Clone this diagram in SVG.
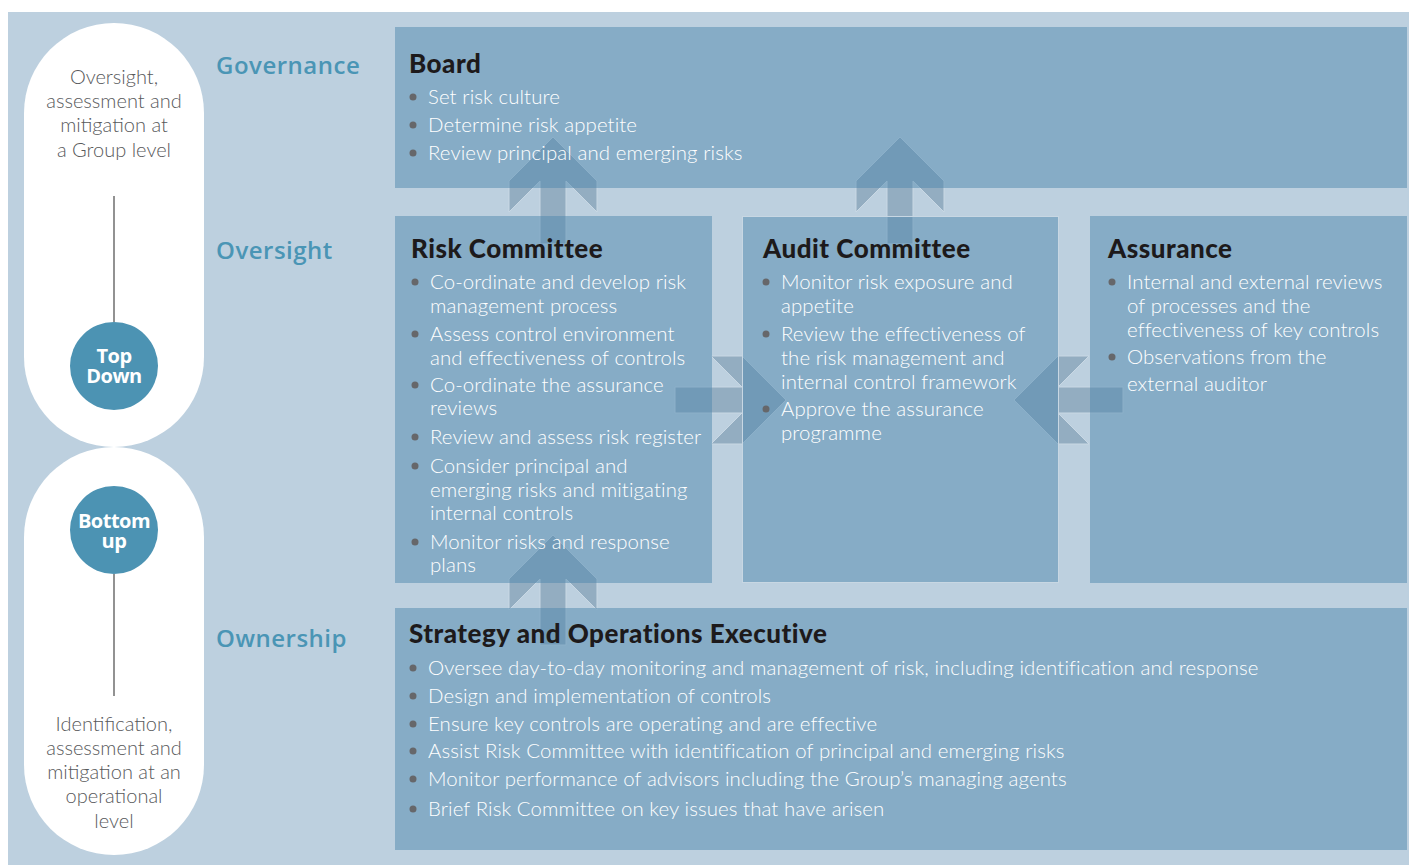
<svg xmlns="http://www.w3.org/2000/svg" width="1409" height="865" viewBox="0 0 1409 865">
<style>
.bg{fill:#BDD0DF}
.pill{fill:#FFFFFF}
.box{fill:#4F87AD;fill-opacity:0.5}
.audit{stroke:#C8D7E3;stroke-width:1}
.arrow{fill:#93ADC1;stroke:#C9D8E4;stroke-width:1}
.circ{fill:#4C93B3}
.stem{stroke:#6E6E6E;stroke-width:1.5}
.side{font-family:Lato,"Liberation Sans",sans-serif;font-size:20px;fill:#58595B;text-anchor:middle;font-weight:300}
.dir{font-family:"Open Sans","Liberation Sans",sans-serif;font-size:20px;font-weight:700;fill:#FFFFFF;text-anchor:middle;letter-spacing:-0.5px}
.lab{font-family:"Open Sans","Liberation Sans",sans-serif;font-size:24px;font-weight:600;fill:#4A95B5;letter-spacing:0.5px}
.h{font-family:Lato,"Liberation Sans",sans-serif;font-size:26px;font-weight:900;fill:#1D1A1B;letter-spacing:0.5px}
.t{font-family:Lato,"Liberation Sans",sans-serif;font-size:20.4px;font-weight:300;fill:#FFFFFF;letter-spacing:0.1px}
.dot{fill:#66676A}
</style>
<rect class="bg" x="8" y="12" width="1401" height="853"/>

<g id="connectors">
  <polygon class="arrow" points="553,137 597,181 597,212 566,181 566,244 540,244 540,181 509,212 509,181"/>
  <polygon class="arrow" points="900,137 944,181 944,212 913,181 913,244 887,244 887,181 856,212 856,181"/>
  <polygon class="arrow" points="553,535 597,579 597,610 566,579 566,645 540,645 540,579 509,610 509,579"/>
  <polygon class="arrow" points="786,400 742,444 711,444 742,413 675,413 675,387 742,387 711,356 742,356"/>
  <polygon class="arrow" points="1014,400 1058,356 1089,356 1058,387 1123,387 1123,413 1058,413 1089,444 1058,444"/>
</g>

<g id="top-down">
  <rect class="pill" x="24" y="23" width="180" height="424" rx="90" ry="90"/>
  <text class="side" x="114" y="84">Oversight,</text>
  <text class="side" x="114" y="108">assessment and</text>
  <text class="side" x="114" y="132">mitigation at</text>
  <text class="side" x="114" y="157">a Group level</text>
  <line class="stem" x1="114" y1="196" x2="114" y2="322"/>
  <circle class="circ" cx="114" cy="366" r="44"/>
  <text class="dir" x="114" y="363">Top<tspan x="114" dy="20">Down</tspan></text>
</g>

<g id="bottom-up">
  <rect class="pill" x="24" y="447" width="180" height="408" rx="90" ry="90"/>
  <circle class="circ" cx="114" cy="530" r="44"/>
  <text class="dir" x="114" y="528">Bottom<tspan x="114" dy="20">up</tspan></text>
  <line class="stem" x1="114" y1="574" x2="114" y2="696"/>
  <text class="side" x="114" y="731">Identification,</text>
  <text class="side" x="114" y="755">assessment and</text>
  <text class="side" x="114" y="779">mitigation at an</text>
  <text class="side" x="114" y="803">operational</text>
  <text class="side" x="114" y="828">level</text>
</g>

<g id="labels">
  <text class="lab" x="216" y="74">Governance</text>
  <text class="lab" x="216" y="259">Oversight</text>
  <text class="lab" x="216" y="647">Ownership</text>
</g>

<g id="board">
  <rect class="box" x="395" y="27" width="1012" height="161"/>
  <text class="h" x="409" y="73">Board</text>
  <circle class="dot" cx="413" cy="97" r="3.5"/><text class="t" x="428" y="104">Set risk culture</text>
  <circle class="dot" cx="413" cy="125" r="3.5"/><text class="t" x="428" y="132">Determine risk appetite</text>
  <circle class="dot" cx="413" cy="153" r="3.5"/><text class="t" x="428" y="160">Review principal and emerging risks</text>
</g>

<g id="risk-committee">
  <rect class="box" x="395" y="216" width="317" height="367"/>
  <text class="h" x="411" y="258">Risk Committee</text>
  <circle class="dot" cx="415" cy="282" r="3.5"/>
  <text class="t" x="430" y="289">Co-ordinate and develop risk</text>
  <text class="t" x="430" y="313">management process</text>
  <circle class="dot" cx="415" cy="334" r="3.5"/>
  <text class="t" x="430" y="341">Assess control  environment</text>
  <text class="t" x="430" y="365">and effectiveness of controls</text>
  <circle class="dot" cx="415" cy="385" r="3.5"/>
  <text class="t" x="430" y="392">Co-ordinate the assurance</text>
  <text class="t" x="430" y="415">reviews</text>
  <circle class="dot" cx="415" cy="437" r="3.5"/>
  <text class="t" x="430" y="444">Review and assess risk register</text>
  <circle class="dot" cx="415" cy="466" r="3.5"/>
  <text class="t" x="430" y="473">Consider principal and</text>
  <text class="t" x="430" y="497">emerging risks and mitigating</text>
  <text class="t" x="430" y="520">internal controls</text>
  <circle class="dot" cx="415" cy="542" r="3.5"/>
  <text class="t" x="430" y="549">Monitor risks and response</text>
  <text class="t" x="430" y="572">plans</text>
</g>

<g id="audit-committee">
  <rect class="box audit" x="742.5" y="216.5" width="316" height="366"/>
  <text class="h" x="763" y="258">Audit Committee</text>
  <circle class="dot" cx="766" cy="282" r="3.5"/>
  <text class="t" x="781" y="289">Monitor risk exposure and</text>
  <text class="t" x="781" y="313">appetite</text>
  <circle class="dot" cx="766" cy="334" r="3.5"/>
  <text class="t" x="781" y="341">Review the effectiveness of</text>
  <text class="t" x="781" y="365">the risk management and</text>
  <text class="t" x="781" y="389">internal control framework</text>
  <circle class="dot" cx="766" cy="409" r="3.5"/>
  <text class="t" x="781" y="416">Approve the assurance</text>
  <text class="t" x="781" y="440">programme</text>
</g>

<g id="assurance">
  <rect class="box" x="1090" y="216" width="317" height="367"/>
  <text class="h" x="1108" y="258">Assurance</text>
  <circle class="dot" cx="1112" cy="282" r="3.5"/>
  <text class="t" x="1127" y="289">Internal and external reviews</text>
  <text class="t" x="1127" y="313">of processes and the</text>
  <text class="t" x="1127" y="337">effectiveness of key controls</text>
  <circle class="dot" cx="1112" cy="357" r="3.5"/>
  <text class="t" x="1127" y="364">Observations from the</text>
  <text class="t" x="1127" y="391">external auditor</text>
</g>

<g id="strategy-operations">
  <rect class="box" x="395" y="608" width="1012" height="242"/>
  <text class="h" x="409" y="643">Strategy and Operations Executive</text>
  <circle class="dot" cx="413" cy="668" r="3.5"/><text class="t" x="428" y="675">Oversee day-to-day monitoring and management of risk, including identification and response</text>
  <circle class="dot" cx="413" cy="696" r="3.5"/><text class="t" x="428" y="703">Design and implementation of controls</text>
  <circle class="dot" cx="413" cy="724" r="3.5"/><text class="t" x="428" y="731">Ensure key controls are operating and are effective</text>
  <circle class="dot" cx="413" cy="751" r="3.5"/><text class="t" x="428" y="758">Assist Risk Committee with identification of principal and emerging risks</text>
  <circle class="dot" cx="413" cy="779" r="3.5"/><text class="t" x="428" y="786">Monitor performance of advisors including the Group’s managing agents</text>
  <circle class="dot" cx="413" cy="809" r="3.5"/><text class="t" x="428" y="816">Brief Risk Committee on key issues that have arisen</text>
</g>
</svg>
